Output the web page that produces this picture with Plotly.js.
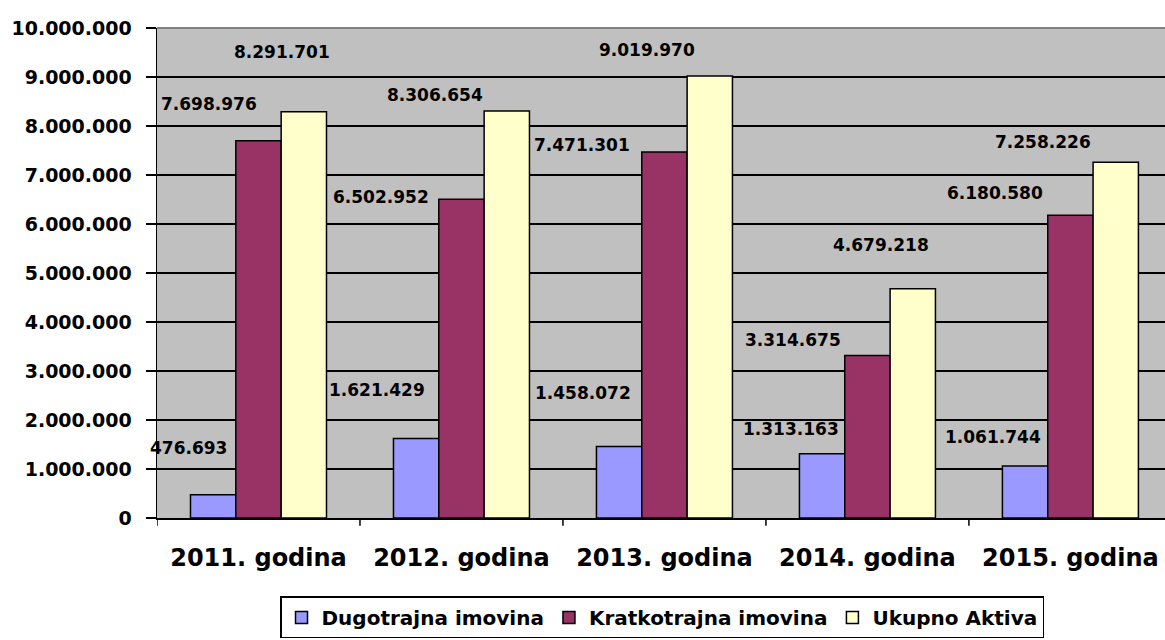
<!DOCTYPE html>
<html>
<head>
<meta charset="utf-8">
<script src="https://cdn.plot.ly/plotly-3.0.1.min.js"></script>
<style>html,body{margin:0;padding:0;background:#fff;}#chart{width:1165px;height:640px;}</style>
</head>
<body>
<div id="chart"></div>
<script>
// ---- data ----
var categories = ['2011. godina', '2012. godina', '2013. godina', '2014. godina', '2015. godina'];
var seriesNames = ['Dugotrajna imovina', 'Kratkotrajna imovina', 'Ukupno Aktiva'];
var dugotrajna = [476693, 1621429, 1458072, 1313163, 1061744];
var kratkotrajna = [7698976, 6502952, 7471301, 3314675, 6180580];
var ukupno = [8291701, 8306654, 9019970, 4679218, 7258226];
var yTickVals = [0, 1000000, 2000000, 3000000, 4000000, 5000000, 6000000, 7000000, 8000000, 9000000, 10000000];

// ---- style / layout ----
var colors = ['#9999FF', '#993366', '#FFFFCC'];
var series = [dugotrajna, kratkotrajna, ukupno];
var bargap = 0.33;
var barW = (1 - bargap) / 3;
// label offsets in px relative to top-centre of each bar (Excel-style manual placement)
var labelDx = [
  [-25, -39, -36, -31, -32],
  [-49.5, -80.5, -82.5, -74.5, -75.5],
  [-21.8, -72.3, -62.8, -31.8, -72.3]
];
var labelDy = [
  [46.6, 48.6, 53.6, 24.7, 29],
  [36.8, 2.4, 6.9, 15.6, 22.2],
  [59.7, 16, 26, 43.7, 20.3]
];

function fmt(v) {
  return String(v).replace(/\B(?=(\d{3})+(?!\d))/g, '.');
}

var FONT = 'DejaVu Sans, Liberation Sans, Arial, sans-serif';

var traces = series.map(function (vals, s) {
  return {
    type: 'bar',
    name: seriesNames[s],
    x: categories.map(function (c, i) { return i; }),
    y: vals,
    marker: { color: colors[s], line: { color: '#000000', width: 1.5 } },
    hoverinfo: 'none'
  };
});

var annotations = [];
series.forEach(function (vals, s) {
  vals.forEach(function (v, i) {
    annotations.push({
      x: i + (s - 1) * barW,
      y: v,
      xref: 'x', yref: 'y',
      text: fmt(v),
      showarrow: false,
      xanchor: 'center', yanchor: 'middle',
      xshift: labelDx[s][i],
      yshift: labelDy[s][i],
      font: { family: FONT, size: 17, color: '#000000', weight: 'bold' }
    });
  });
});

var layout = {
  width: 1165,
  height: 640,
  margin: { l: 157, r: 0, t: 28, b: 122, pad: 0 },
  paper_bgcolor: '#FFFFFF',
  plot_bgcolor: '#C0C0C0',
  separators: ',.',
  barmode: 'group',
  bargap: bargap,
  bargroupgap: 0,
  showlegend: true,
  font: { family: FONT, color: '#000000' },
  xaxis: {
    type: 'linear',
    range: [-0.5, 4.466],
    tickmode: 'array',
    tickvals: categories.map(function (c, i) { return i; }),
    ticktext: categories,
    ticks: '',
    showgrid: false,
    zeroline: false,
    showline: true,
    linecolor: '#000000',
    linewidth: 1.5,
    ticklabelstandoff: 18,
    tickfont: { family: FONT, size: 24, color: '#000000', weight: 'bold' },
    fixedrange: true
  },
  yaxis: {
    range: [0, 10000000],
    tickmode: 'array',
    tickvals: yTickVals,
    ticktext: yTickVals.map(fmt),
    ticks: 'outside',
    ticklen: 10,
    tickwidth: 1.5,
    tickcolor: '#000000',
    showgrid: true,
    gridcolor: '#000000',
    gridwidth: 1.5,
    zeroline: false,
    showline: true,
    linecolor: '#000000',
    linewidth: 1.5,
    ticklabelstandoff: 10,
    tickfont: { family: FONT, size: 19, color: '#000000', weight: 'bold' },
    fixedrange: true
  },
  legend: {
    orientation: 'h',
    x: 0.501, xanchor: 'center',
    y: -0.16, yanchor: 'top',
    bgcolor: '#FFFFFF',
    bordercolor: '#000000',
    borderwidth: 1.5,
    font: { family: FONT, size: 20, color: '#000000', weight: 'bold' },
    itemwidth: 30,
    traceorder: 'normal'
  },
  annotations: annotations,
  shapes: categories.map(function (c, i) {
    return {
      type: 'line', xref: 'x', yref: 'paper',
      x0: i - 0.5, x1: i - 0.5, y0: 0, y1: -0.016,
      line: { color: '#000000', width: 1.5 }
    };
  }).concat([{
    type: 'line', xref: 'paper', yref: 'paper', x0: 0, x1: 1, y0: 1, y1: 1,
    line: { color: '#808080', width: 2 }
  }])
};

Plotly.newPlot('chart', traces, layout, { displayModeBar: false, staticPlot: true });
</script>
</body>
</html>
